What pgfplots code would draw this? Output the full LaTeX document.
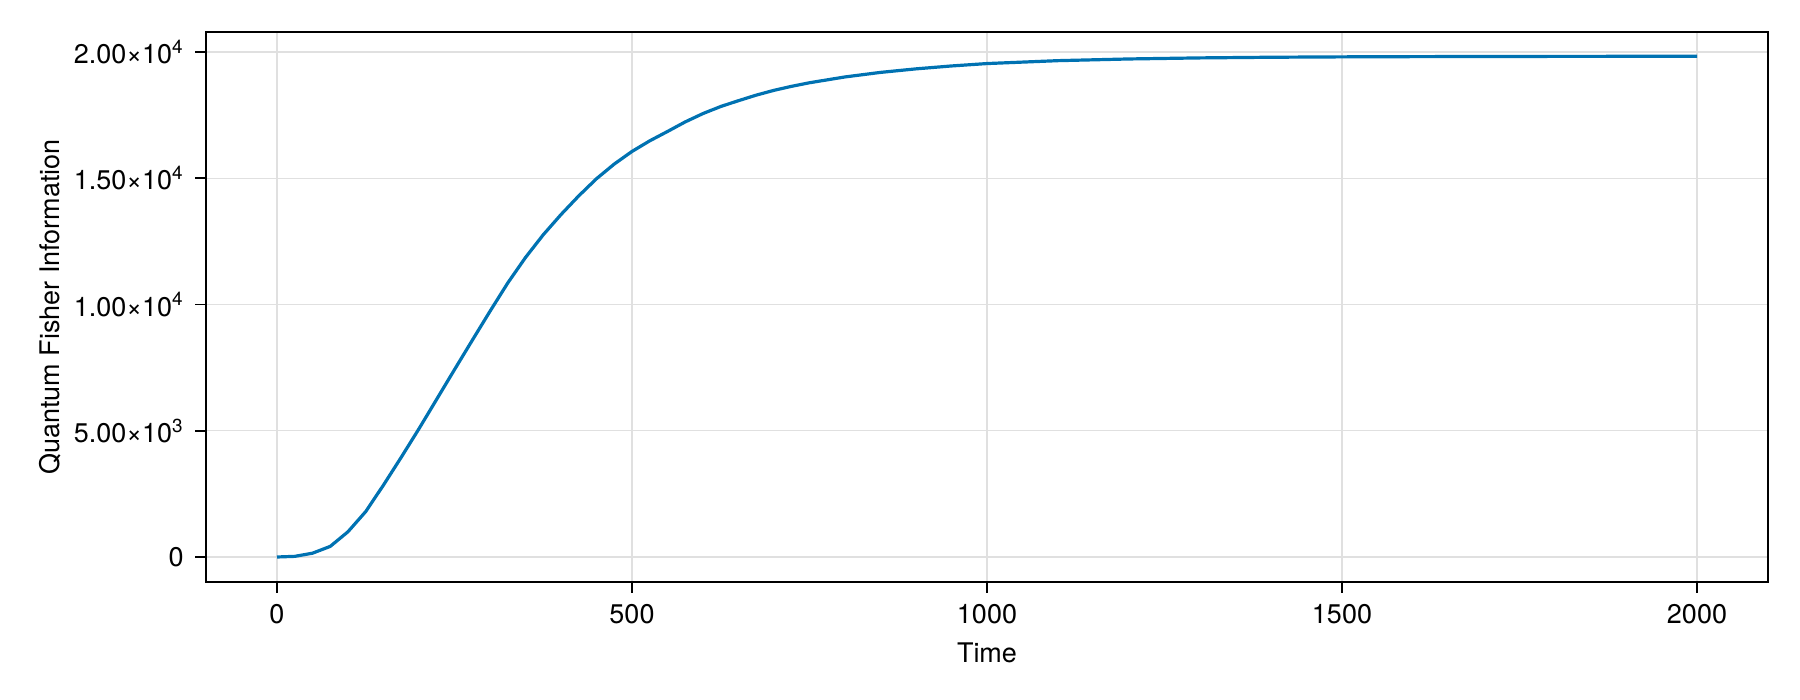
\documentclass[border=0pt]{standalone}
\usepackage{fontspec}
\setmainfont{TeX Gyre Heros}
\usepackage{pgfplots}
\pgfplotsset{compat=1.18}
\definecolor{makieblue}{RGB}{0,114,178}

\begin{document}
\fontsize{13.5}{16}\selectfont
\begin{tikzpicture}
\path[use as bounding box] (-103pt,-59pt) rectangle (797pt,291pt);
\begin{axis}[
  scale only axis,
  width=781pt, height=275pt,
  xmin=-100, xmax=2100,
  ymin=-990, ymax=20790,
  scaled y ticks=false,
  xtick={0,500,1000,1500,2000},
  xticklabels={0,500,1000,1500,2000},
  ytick={0,5000,10000,15000,20000},
  yticklabels={0,
    5.00×10\textsuperscript{3},
    1.00×10\textsuperscript{4},
    1.50×10\textsuperscript{4},
    2.00×10\textsuperscript{4}},
  tick align=outside,
  tick pos=left,
  major tick length=5.3pt,
  tick style={black, line width=0.85pt},
  axis line style={line width=0.85pt},
  grid=major,
  grid style={black!12, line width=0.6pt},
  xticklabel style={anchor=base, inner sep=0pt, yshift=-15.7pt},
  yticklabel style={anchor=east, inner sep=0pt, xshift=-5.7pt},
  xlabel={Time},
  ylabel={Quantum Fisher Information},
  xlabel style={at={(axis description cs:0.5,0)}, anchor=base, inner sep=0pt, yshift=-40.4pt},
  ylabel style={at={(axis description cs:-0.0935,0.5)}, anchor=base, inner sep=0pt},
]
\addplot[makieblue, line width=1.6pt, line join=round] table {
t     v
0     0
25    25
50    150
75    420
100   1000
125   1800
150   2850
175   3950
200   5080
225   6250
250   7420
275   8580
300   9730
325   10850
350   11860
375   12760
400   13560
425   14300
450   14980
475   15560
500   16060
525   16480
550   16850
575   17230
600   17560
625   17840
650   18070
675   18290
700   18480
725   18640
750   18780
800   19010
850   19190
900   19330
950   19445
1000  19540
1100  19655
1200  19722
1300  19764
1400  19790
1500  19805
1600  19814
1800  19824
2000  19828
};
\end{axis}
\end{tikzpicture}
\end{document}
